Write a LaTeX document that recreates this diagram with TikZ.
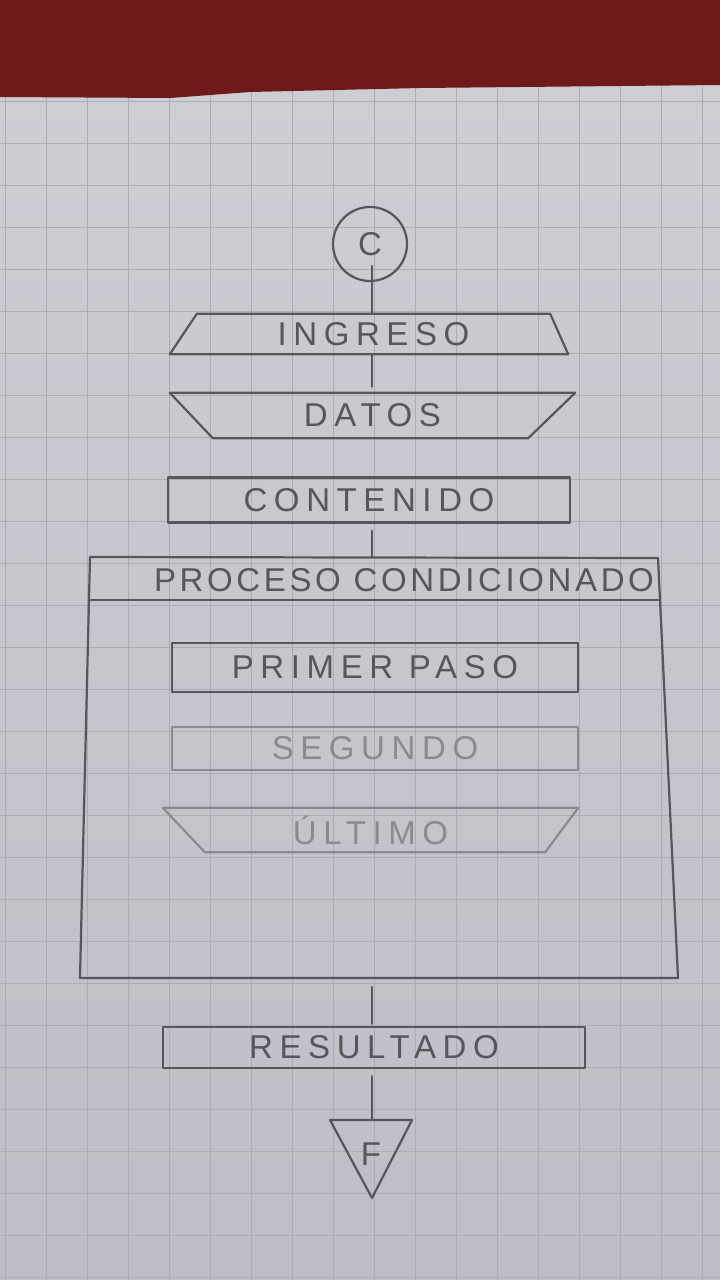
\documentclass[tikz,border=0pt]{standalone}
\usepackage{fontspec}
\newfontfamily\pencil{Liberation Sans}[LetterSpace=20]
\newfontfamily\pencilnarrow{Liberation Sans}[LetterSpace=11]
\usetikzlibrary{calc}

\definecolor{paper}{RGB}{206,206,213}
\definecolor{paperlow}{RGB}{190,190,198}
\definecolor{gridln}{RGB}{172,172,182}
\definecolor{cloth}{RGB}{110,25,26}
\definecolor{lead}{RGB}{86,86,92}
\definecolor{leadlight}{RGB}{138,138,145}

\begin{document}
\begin{tikzpicture}[x=1pt,y=-1pt,
  pencil/.style={draw=lead, line width=2.2pt, line join=round, line cap=round},
  faint/.style={pencil, draw=leadlight},
  word/.style={text=lead, font=\pencil\fontsize{33}{33}\selectfont, inner sep=0pt},
  faintword/.style={word, text=leadlight},
  boxnode/.style={inner sep=0pt, minimum width=#1},
  rectbox/.style={pencil, word, minimum width=#1},
  link/.style={pencil}
]
\useasboundingbox (0,0) rectangle (720,1280);

% squared paper sheet
\fill[top color=paper, bottom color=paperlow] (0,0) rectangle (720,1280);
\foreach \gx in {5,46,...,705}
  \draw[gridln, line width=1pt] (\gx,80) -- (\gx,1280);
\foreach \gy in {101,143,...,1280}
  \draw[gridln, line width=1pt] (0,\gy) -- (720,\gy);

% cloth behind the sheet
\fill[cloth] (0,0) -- (720,0) -- (720,85) -- (420,88) -- (250,92)
  -- (170,98) -- (0,97) -- cycle;

% start connector
\node[pencil, word, circle, minimum size=74pt] (c) at (370,244) {C};

% INGRESO (input, wider at the bottom)
\node[word, boxnode=353, minimum height=40] (ing) at (373.5,334) {INGRESO};
\draw[pencil] (ing.north west) -- (ing.north east)
  -- ([xshift=18pt]ing.south east) -- ([xshift=-27pt]ing.south west) -- cycle;

% DATOS (manual operation, wider at the top)
\node[word, boxnode=405, minimum height=45] (dat) at (372.5,415.5) {DATOS};
\draw[pencil] (dat.north west) -- (dat.north east)
  -- ([xshift=-47pt]dat.south east) -- ([xshift=43pt]dat.south west) -- cycle;

% CONTENIDO
\node[rectbox=402, minimum height=45] (cont) at (369,500) {CONTENIDO};

% conditioned process frame
\coordinate (fTL) at (90,557);
\coordinate (fTR) at (658,558);
\coordinate (fBR) at (678,978);
\coordinate (fBL) at (80,978);
\coordinate (hL) at (91,600);
\coordinate (hR) at (659,600);
\coordinate (ptop) at (372,557);
\coordinate (pbot) at (372,987);
\draw[pencil] (fTL) -- (fTR) -- (fBR) -- (fBL) -- cycle;
\draw[pencil] (hL) -- (hR);
\node[word, font=\pencilnarrow\fontsize{33}{33}\selectfont] (proc) at (404,580)
  {PROCESO CONDICIONADO};

% steps inside the frame
\node[rectbox=406, minimum height=49] (p1) at (375,667.5) {PRIMER PASO};
\node[faint, faintword, minimum width=406, minimum height=43] (p2) at (375,748.5) {SEGUNDO};
\node[faintword, boxnode=415, minimum height=44] (p3) at (370.5,830) {ÚLTIMO};
\draw[faint] (p3.north west) -- (p3.north east)
  -- ([xshift=-33pt]p3.south east) -- ([xshift=42pt]p3.south west) -- cycle;

% RESULTADO
\node[rectbox=422, minimum height=41] (res) at (374,1047.5) {RESULTADO};

% end mark (downward triangle)
\coordinate (tL) at (330,1120);
\coordinate (tR) at (412,1120);
\coordinate (tB) at (372,1198);
\coordinate (ttop) at (372,1120);
\draw[pencil] (tL) -- (tR) -- (tB) -- cycle;
\node[word] (fin) at (371,1154) {F};

% flow lines, all on the vertical x = 372
\draw[link] ([yshift=-22pt]ptop |- c.center) -- (ptop |- ing.north);
\draw[link, shorten >=6pt] (ptop |- ing.south) -- (ptop |- dat.north);
\draw[link, shorten <=7pt] (ptop |- cont.south) -- (ptop);
\draw[link, shorten >=2pt] (pbot) -- (pbot |- res.north);
\draw[link, shorten <=7pt] (ttop |- res.south) -- (ttop);
\end{tikzpicture}
\end{document}
